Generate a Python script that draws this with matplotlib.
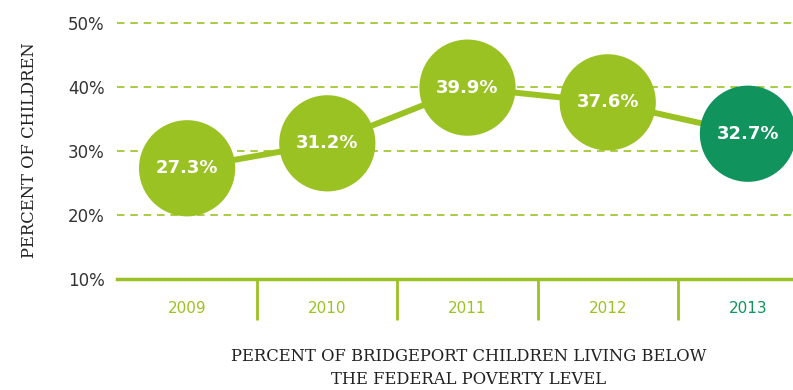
import matplotlib.pyplot as plt

# Données : part des enfants sous le seuil de pauvreté
years = ["2009", "2010", "2011", "2012", "2013"]
pct = [27.3, 31.2, 39.9, 37.6, 32.7]
y_ticks = [10, 20, 30, 40, 50]

light_green = "#9bc223"
dark_green = "#10935c"
point_colors = [light_green] * 4 + [dark_green]

fig = plt.figure(figsize=(7.93, 3.9), dpi=100)
ax = fig.add_axes([117 / 793, 1 - 279 / 390, 1 - 117 / 793, 256 / 390])

x = list(range(len(years)))
ax.set_xlim(-0.5, (793 - 188) / 140)
ax.set_ylim(10, 50)

# Lignes de grille pointillées
for t in y_ticks[1:]:
    ax.axhline(t, color=light_green, lw=1.2, ls=(0, (4.5, 3.5)), zorder=1, clip_on=False)

# Axe horizontal et séparateurs entre années
ax.axhline(10, color=light_green, lw=2.5, zorder=2, clip_on=False)
ax.vlines([i + 0.5 for i in x[:-1]], 3.6, 10, color=light_green, lw=2, clip_on=False)

# Courbe et cercles
ax.plot(x, pct, color=light_green, lw=4.3, zorder=3, clip_on=False)
ax.scatter(x, pct, s=4800, c=point_colors, zorder=4, clip_on=False, linewidths=0)
for xi, v in zip(x, pct):
    ax.text(xi, v, f"{v}%", color="white", fontsize=13, fontweight="semibold",
            ha="center", va="center", zorder=5)

for spine in ax.spines.values():
    spine.set_visible(False)
ax.set_yticks(y_ticks)
ax.set_yticklabels([f"{t}%" for t in y_ticks], fontsize=12, color="#333333")
ax.tick_params(axis="y", length=0, pad=9)
ax.set_xticks(x)
ax.set_xticklabels(years, fontsize=11)
for lbl, c in zip(ax.get_xticklabels(), point_colors):
    lbl.set_color(c)
ax.tick_params(axis="x", length=0, pad=16)

fig.text(30 / 793, 1 - 150 / 390, "PERCENT OF CHILDREN", rotation=90,
         ha="center", va="center", fontsize=11.8, family="DejaVu Serif", color="#222222")
fig.text(469 / 793, 1 - 368 / 390,
         "PERCENT OF BRIDGEPORT CHILDREN LIVING BELOW\nTHE FEDERAL POVERTY LEVEL",
         ha="center", va="center", fontsize=11.8, family="DejaVu Serif", color="#222222",
         linespacing=1.45)

fig.savefig("out.png", dpi=100)
